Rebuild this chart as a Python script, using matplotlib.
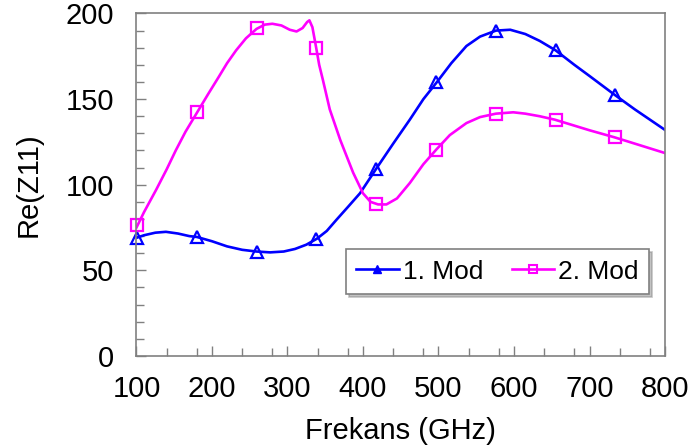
import matplotlib
matplotlib.use("Agg")
import matplotlib.pyplot as plt
from matplotlib.lines import Line2D

# curve values (GHz, Re(Z11))
mod1_freq = [100, 110, 125, 139, 155, 170, 180, 200, 220, 240, 259, 277, 295, 310, 325,
             339, 352, 365, 380, 396, 417, 440, 462, 480, 498, 517, 537, 555, 576, 595,
             615, 634, 655, 680, 700, 733, 760, 800]
mod1_re = [69, 70.5, 72, 72.5, 71.5, 70, 69.5, 67, 64, 62, 61, 60.5, 61, 62.5, 65,
           68.5, 73, 79.6, 87, 95, 109, 124, 138, 150, 160, 171, 181, 186.5, 190, 190.5,
           188, 184, 178.5, 170, 163.5, 152.6, 144, 132]

mod2_freq = [100, 110, 126, 140, 152, 165, 180, 195, 209, 220, 232, 245, 259, 270, 280,
             292, 303, 312, 320, 326, 329, 333, 338, 342, 347, 356, 370, 387, 400, 410,
             420, 431, 445, 462, 480, 497, 515, 537, 555, 576, 599, 615, 634, 654, 680,
             700, 733, 760, 800]
mod2_re = [75, 84, 97, 109, 120, 131, 142, 153, 163, 171, 178.5, 185.5, 191, 193.5, 194,
           193, 190.5, 189.5, 191.5, 195, 196, 192, 180, 170, 161, 144, 126, 107, 95, 90,
           88.5, 88.5, 92, 101, 112, 120.5, 129, 136, 139.5, 141.5, 142.3, 141.5, 140, 138, 134.5,
           131.8, 127.7, 124, 118.5]

# marker positions
marker_freq = [101, 180, 259, 338, 417, 497, 576, 655, 734]
mod1_marks = [69, 69.5, 61, 68.5, 109, 160, 190, 178.5, 152.6]
mod2_marks = [76.5, 142.3, 191.5, 180, 89, 120.5, 141.5, 138, 127.7]

x_major = [100, 200, 300, 400, 500, 600, 700, 800]
y_major = [0, 50, 100, 150, 200]

BLUE = "#0000FF"
PINK = "#FF00FF"
GRAY = "#808080"

plt.rcParams["font.family"] = ["Liberation Sans", "DejaVu Sans"]

fig = plt.figure(figsize=(6.91, 4.48), dpi=100)
ax = fig.add_axes([0.1975, 0.2054, 0.7649, 0.7645])

ax.plot(mod1_freq, mod1_re, color=BLUE, lw=1.9, solid_joinstyle="round")
ax.plot(mod2_freq, mod2_re, color=PINK, lw=1.9, solid_joinstyle="round")
ax.plot(marker_freq, mod1_marks, ls="none", marker="^", ms=9, mfc="none",
        mec=BLUE, mew=1.6, clip_on=False)
ax.plot(marker_freq, mod2_marks, ls="none", marker="s", ms=8.5, mfc="none",
        mec=PINK, mew=1.6, clip_on=False)

ax.set_xlim(100, 800)
ax.set_ylim(0, 200)
ax.set_xticks(x_major)
ax.set_yticks(y_major)
ax.set_xticks([m + d for m in x_major[:-1] for d in (40, 80)], minor=True)
ax.set_yticks(range(0, 201, 10), minor=True)

ax.tick_params(axis="both", which="both", direction="in", color=GRAY,
               top=False, right=False, labelsize=21)
ax.tick_params(axis="both", which="major", length=7.5, width=1)
ax.tick_params(axis="both", which="minor", length=5.8, width=1)
ax.tick_params(axis="y", which="major", pad=16)
ax.tick_params(axis="x", which="major", pad=14)

for sp in ax.spines.values():
    sp.set_color(GRAY)
    sp.set_linewidth(1.2)

ax.set_xlabel("Frekans (GHz)", fontsize=21, labelpad=10)
ax.set_ylabel("Re(Z11)", fontsize=21, labelpad=17)

handles = [
    Line2D([], [], color=BLUE, lw=1.9, marker="^", ms=6, mfc=BLUE, mec=BLUE),
    Line2D([], [], color=PINK, lw=1.9, marker="s", ms=6, mfc="none", mec=PINK, mew=1.5),
]
leg = ax.legend(handles, ["1. Mod", "2. Mod"], loc="upper left",
                bbox_to_anchor=(0.396, 0.312), ncol=2, fontsize=19,
                frameon=True, fancybox=False, shadow={"color": "#888888"},
                handlelength=1.6, handletextpad=0.15, columnspacing=1.1,
                borderpad=0.4, borderaxespad=0)
leg.get_frame().set_edgecolor(GRAY)
leg.get_frame().set_linewidth(1.2)

fig.savefig("out.png", dpi=100)
